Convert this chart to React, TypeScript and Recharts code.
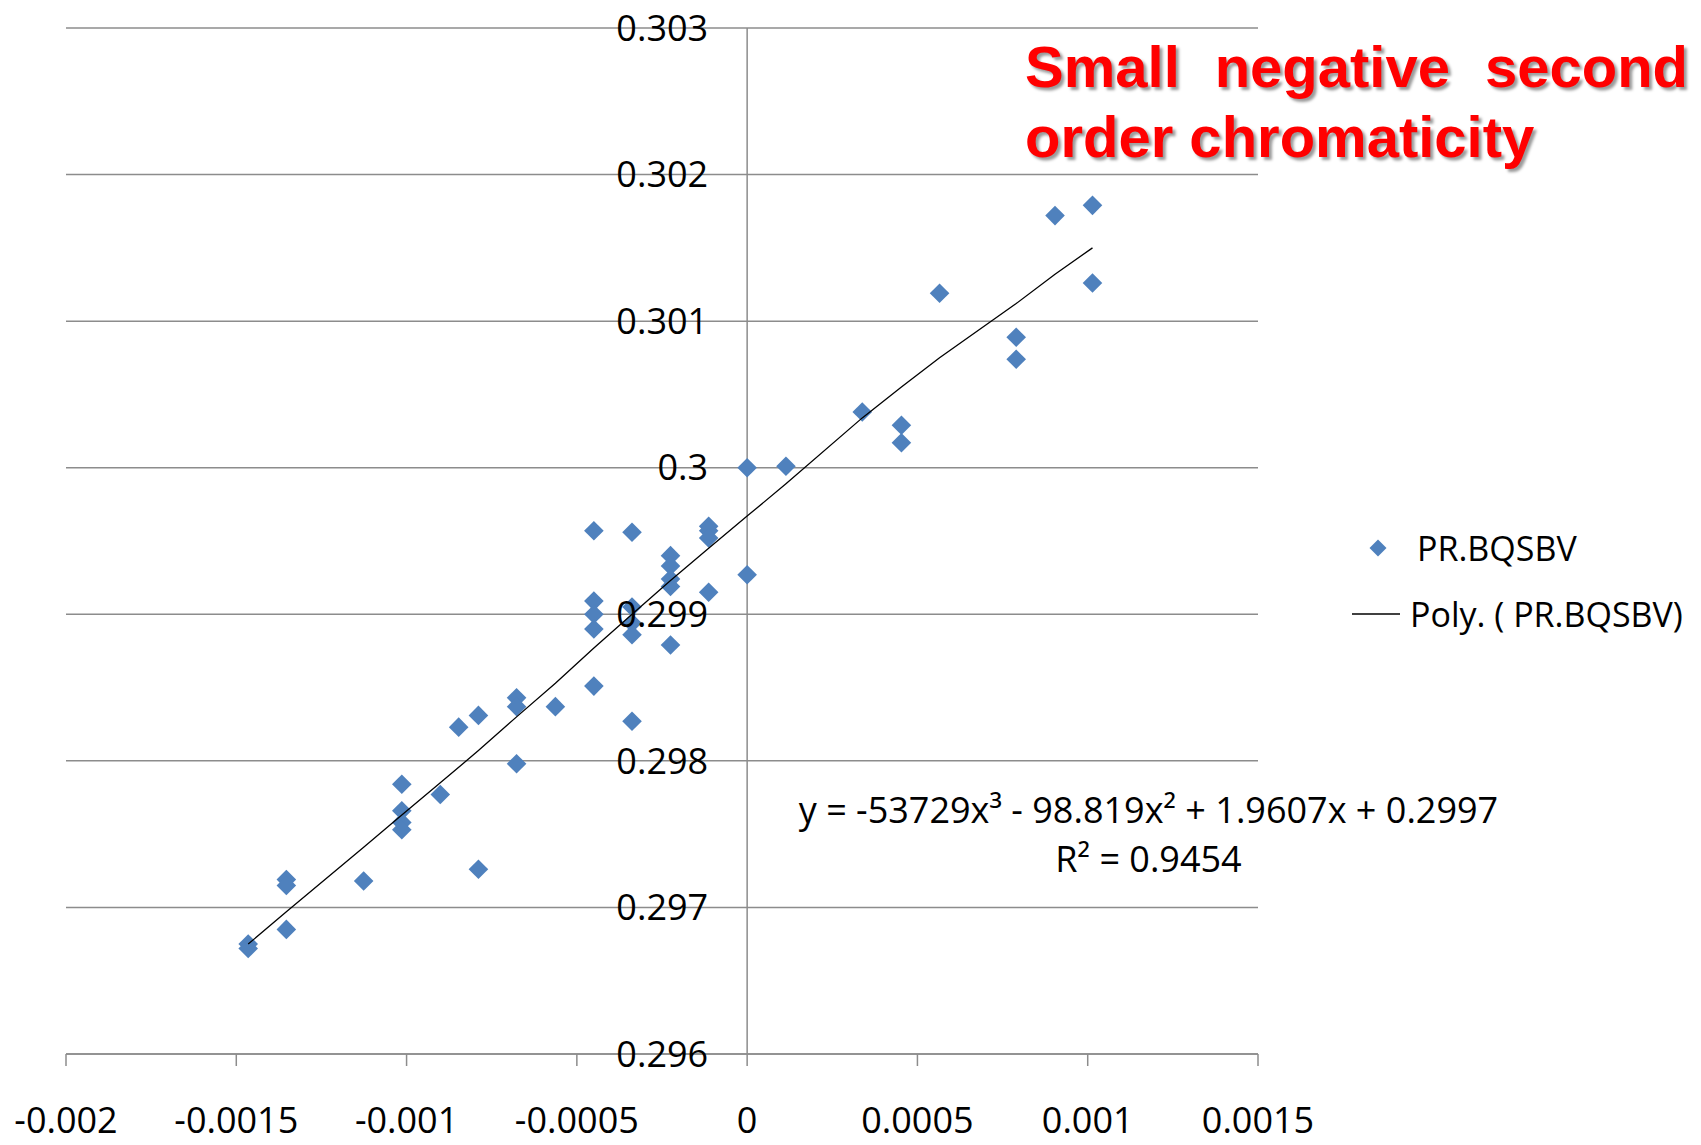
import {
  ReferenceDot,
  ReferenceLine,
  Scatter,
  ScatterChart,
  XAxis,
  YAxis,
} from "recharts";

// measured tune values (x) and second-order chromaticity readings (y)
const pointX = [
  -0.001465, -0.001465, -0.001353, -0.001353, -0.001353, -0.001126, -0.001014,
  -0.001014, -0.001014, -0.001014, -0.000901, -0.000847, -0.000789, -0.000789,
  -0.000677, -0.000677, -0.000677, -0.000563, -0.00045, -0.00045, -0.00045,
  -0.00045, -0.00045, -0.000338, -0.000338, -0.000338, -0.000338, -0.000338,
  -0.000225, -0.000225, -0.000225, -0.000225, -0.000225, -0.000113, -0.000113,
  -0.000113, -0.000113, 0, 0, 0.000114, 0.000338, 0.000453, 0.000453, 0.000565,
  0.00079, 0.00079, 0.000904, 0.001014, 0.001014,
];
const pointY = [
  0.29675, 0.29672, 0.29719, 0.29715, 0.29685, 0.29718, 0.29784, 0.29766,
  0.29758, 0.29753, 0.29777, 0.29823, 0.29831, 0.29726, 0.29843, 0.29837,
  0.29798, 0.29837, 0.29957, 0.29909, 0.299, 0.2989, 0.29851, 0.29956, 0.29905,
  0.29894, 0.29886, 0.29827, 0.2994, 0.29933, 0.29924, 0.29919, 0.29879,
  0.2996, 0.29957, 0.29952, 0.29915, 0.3, 0.29927, 0.30001, 0.30038, 0.30029,
  0.30017, 0.30119, 0.30089, 0.30074, 0.30172, 0.30179, 0.30126,
];

// poly trendline
const trendX = [
  -0.001465, -0.001353, -0.001126, -0.001014, -0.000901, -0.000789, -0.000677,
  -0.000563, -0.00045, -0.000338, -0.000225, -0.000113, 0, 0.000114, 0.000338,
  0.000453, 0.000565, 0.00079, 0.000904, 0.001014,
];
const trendY = [
  0.29675, 0.29697, 0.29741, 0.29763, 0.29785, 0.29807, 0.2983, 0.29853,
  0.29877, 0.299, 0.29923, 0.29945, 0.29967, 0.29989, 0.30034, 0.30055,
  0.30075, 0.30112, 0.30132, 0.3015,
];

const xTicks = [-0.002, -0.0015, -0.001, -0.0005, 0, 0.0005, 0.001, 0.0015];
const xTickLabels = ["-0.002", "-0.0015", "-0.001", "-0.0005", "0", "0.0005", "0.001", "0.0015"];
const yTicks = [0.296, 0.297, 0.298, 0.299, 0.3, 0.301, 0.302, 0.303];
const yTickLabels = ["0.296", "0.297", "0.298", "0.299", "0.3", "0.301", "0.302", "0.303"];

const seriesName = "PR.BQSBV";
const trendName = "Poly. ( PR.BQSBV)";
const equation = "y = -53729x³ - 98.819x² + 1.9607x + 0.2997";
const rSquared = "R² = 0.9454";
const title = "Small negative second order chromaticity";

const FONT = "'Open Sans', sans-serif";
const BLUE = "#4F81BD";
const GRAY = "#8c8c8c";

const points = pointX.map((x, i) => ({ x, y: pointY[i] }));
const trend = trendX.map((x, i) => ({ x, y: trendY[i] }));

const Diamond = (props: any) => {
  const { cx, cy } = props;
  const h = 9.8;
  return (
    <polygon
      points={`${cx},${cy - h} ${cx + h},${cy} ${cx},${cy + h} ${cx - h},${cy}`}
      fill={BLUE}
    />
  );
};

const LegendBox = () => (
  <div
    style={{
      position: "absolute",
      left: 1352,
      top: 524,
      fontFamily: FONT,
      fontSize: 34,
      color: "#000",
      whiteSpace: "nowrap",
    }}
  >
    <div style={{ display: "flex", alignItems: "center", height: 48 }}>
      <svg width={58} height={30}>
        <polygon points="26,6.5 34.5,15 26,23.5 17.5,15" fill={BLUE} />
      </svg>
      <span style={{ marginLeft: 7 }}>{seriesName}</span>
    </div>
    <div style={{ display: "flex", alignItems: "center", height: 48, marginTop: 18 }}>
      <svg width={50} height={30}>
        <line x1={0} y1={15} x2={48} y2={15} stroke="#000" strokeWidth={1.5} />
      </svg>
      <span style={{ marginLeft: 8 }}>{trendName}</span>
    </div>
  </div>
);

export default function App() {
  return (
    <div style={{ position: "absolute", left: 0, top: 0, width: 1701, height: 1145, background: "#fff" }}>
      <ScatterChart
        width={1701}
        height={1145}
        margin={{ top: 28, right: 443, bottom: 31, left: 66 }}
      >
        <XAxis
          type="number"
          dataKey="x"
          domain={[-0.002, 0.0015]}
          ticks={xTicks}
          tickFormatter={(v: number) => xTickLabels[xTicks.indexOf(v)] ?? String(v)}
          height={60}
          tickSize={12}
          tickMargin={41}
          axisLine={{ stroke: GRAY, strokeWidth: 1.5 }}
          tickLine={{ stroke: GRAY, strokeWidth: 1.5 }}
          tick={{ fill: "#000", fontSize: 36, fontFamily: FONT }}
          interval={0}
          allowDataOverflow
        />
        <YAxis type="number" dataKey="y" domain={[0.296, 0.303]} ticks={yTicks} hide allowDataOverflow />
        {yTicks.map((v) => (
          <ReferenceLine key={`g${v}`} y={v} stroke={GRAY} strokeWidth={1.5} />
        ))}
        <ReferenceLine x={0} stroke={GRAY} strokeWidth={1.5} />
        <Scatter
          name={seriesName}
          data={points}
          shape={Diamond}
          isAnimationActive={false}
        />
        <Scatter
          name={trendName}
          data={trend}
          line={{ stroke: "#000", strokeWidth: 1.3 }}
          shape={() => <g />}
          isAnimationActive={false}
        />
        {yTicks.map((v, i) => (
          <ReferenceDot
            key={`l${v}`}
            x={0}
            y={v}
            r={0}
            fill="none"
            stroke="none"
            label={{
              value: yTickLabels[i],
              position: "left",
              offset: 39,
              fill: "#000",
              fontSize: 36,
              fontFamily: FONT,
            }}
          />
        ))}
      </ScatterChart>

      <LegendBox />

      <div
        style={{
          position: "absolute",
          left: 1025,
          top: 32,
          width: 663,
          fontFamily: "'Liberation Sans', Arial, sans-serif",
          fontWeight: "bold",
          fontSize: 58,
          lineHeight: "70px",
          color: "#ff0000",
          textAlign: "justify",
          textShadow: "3px 3px 3px rgba(0,0,0,0.4)",
        }}
      >
        {title}
      </div>

      <div
        style={{
          position: "absolute",
          left: 760,
          top: 785,
          width: 777,
          fontFamily: FONT,
          fontSize: 36,
          lineHeight: "49px",
          textAlign: "center",
          color: "#000",
        }}
      >
        <div>{equation}</div>
        <div>{rSquared}</div>
      </div>
    </div>
  );
}
